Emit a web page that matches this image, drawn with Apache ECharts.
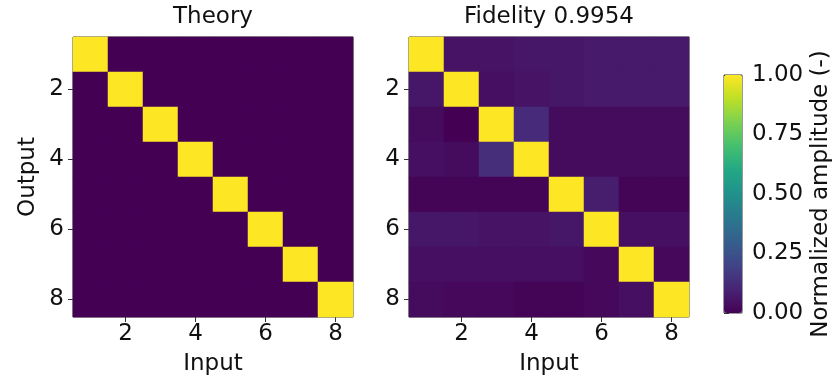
<!DOCTYPE html>
<html>
<head>
<meta charset="utf-8">
<script src="https://cdn.jsdelivr.net/npm/echarts@6/dist/echarts.min.js"></script>
<style>
  html, body { margin: 0; background: #fff; }
  #chart { width: 837px; height: 381px; }
</style>
</head>
<body>
<div id="chart"></div>
<script>
const inputs = ['1', '2', '3', '4', '5', '6', '7', '8']
const outputs = ['1', '2', '3', '4', '5', '6', '7', '8']

// ideal transfer matrix (rows = output, cols = input)
const theory = [
  [1, 0, 0, 0, 0, 0, 0, 0],
  [0, 1, 0, 0, 0, 0, 0, 0],
  [0, 0, 1, 0, 0, 0, 0, 0],
  [0, 0, 0, 1, 0, 0, 0, 0],
  [0, 0, 0, 0, 1, 0, 0, 0],
  [0, 0, 0, 0, 0, 1, 0, 0],
  [0, 0, 0, 0, 0, 0, 1, 0],
  [0, 0, 0, 0, 0, 0, 0, 1]
]

const measured = [
  [1.00, 0.05, 0.05, 0.06, 0.06, 0.07, 0.07, 0.07],
  [0.06, 1.00, 0.04, 0.05, 0.06, 0.07, 0.07, 0.07],
  [0.03, 0.00, 1.00, 0.12, 0.03, 0.03, 0.03, 0.03],
  [0.04, 0.03, 0.13, 1.00, 0.03, 0.03, 0.03, 0.03],
  [0.01, 0.01, 0.01, 0.01, 1.00, 0.08, 0.01, 0.01],
  [0.06, 0.06, 0.05, 0.05, 0.06, 1.00, 0.04, 0.04],
  [0.04, 0.04, 0.04, 0.04, 0.04, 0.02, 1.00, 0.02],
  [0.03, 0.02, 0.02, 0.01, 0.01, 0.02, 0.04, 1.00]
]

const titles = ['Theory', 'Fidelity 0.9954']
const viridis = ['#440154', '#482475', '#414487', '#355f8d', '#2a788e', '#21918c',
  '#22a884', '#44bf70', '#7ad151', '#bddf26', '#fde725']

function toCells(m) {
  const out = []
  m.forEach((row, r) => row.forEach((v, c) => out.push([c, r, v])))
  return out
}

const font = 'DejaVu Sans'
const ink = '#111'
const fs = 23
const evenOnly = (i) => i % 2 === 1

function catAxis(gridIndex, data, isX, showName) {
  return {
    type: 'category',
    gridIndex,
    data,
    inverse: !isX,
    name: showName ? (isX ? 'Input' : 'Output') : '',
    nameLocation: 'middle',
    nameGap: isX ? 36 : 33,
    nameTextStyle: { fontSize: fs, color: ink, fontFamily: font },
    axisLine: { show: false },
    axisTick: { show: true, alignWithLabel: true, interval: evenOnly, length: 5, lineStyle: { color: '#333' } },
    axisLabel: { interval: evenOnly, fontSize: fs, color: ink, fontFamily: font, margin: isX ? 6 : 9 },
    splitLine: { show: false }
  }
}

const chart = echarts.init(document.getElementById('chart'))
chart.setOption({
  animation: false,
  textStyle: { fontFamily: font },
  title: [
    { text: titles[0], left: 213, top: 6, textAlign: 'center', padding: 0,
      textStyle: { fontSize: fs, fontWeight: 'normal', color: ink, fontFamily: font } },
    { text: titles[1], left: 549, top: 6, textAlign: 'center', padding: 0,
      textStyle: { fontSize: fs, fontWeight: 'normal', color: ink, fontFamily: font } }
  ],
  grid: [
    { left: 73, top: 37, width: 280, height: 280, show: true, borderColor: '#333', borderWidth: 1, backgroundColor: 'transparent' },
    { left: 409, top: 37, width: 280, height: 280, show: true, borderColor: '#333', borderWidth: 1, backgroundColor: 'transparent' },
    { left: 724, top: 75, width: 18, height: 238, show: true, borderColor: '#333', borderWidth: 1, backgroundColor: 'transparent' }
  ],
  xAxis: [
    catAxis(0, inputs, true, true),
    catAxis(1, inputs, true, true),
    { type: 'value', gridIndex: 2, show: false, min: 0, max: 1 }
  ],
  yAxis: [
    catAxis(0, outputs, false, true),
    catAxis(1, outputs, false, false),
    {
      type: 'value', gridIndex: 2, position: 'right', min: 0, max: 1, interval: 0.25,
      name: 'Normalized amplitude (-)', nameLocation: 'middle', nameRotate: 90, nameGap: 68,
      nameTextStyle: { fontSize: fs, color: ink, fontFamily: font },
      axisLine: { show: false },
      axisTick: { show: true, length: 5, lineStyle: { color: '#333' } },
      axisLabel: { fontSize: fs, color: ink, fontFamily: font, margin: 10, formatter: (v) => v.toFixed(2) },
      splitLine: { show: false }
    }
  ],
  visualMap: {
    type: 'continuous',
    min: 0,
    max: 1,
    seriesIndex: [0, 1],
    calculable: false,
    hoverLink: false,
    left: 724,
    top: 75,
    padding: 0,
    itemWidth: 18,
    itemHeight: 238,
    text: null,
    showLabel: false,
    inRange: { color: viridis }
  },
  series: [
    { type: 'heatmap', xAxisIndex: 0, yAxisIndex: 0, data: toCells(theory), itemStyle: { borderWidth: 0 } },
    { type: 'heatmap', xAxisIndex: 1, yAxisIndex: 1, data: toCells(measured), itemStyle: { borderWidth: 0 } }
  ]
})
</script>
</body>
</html>
